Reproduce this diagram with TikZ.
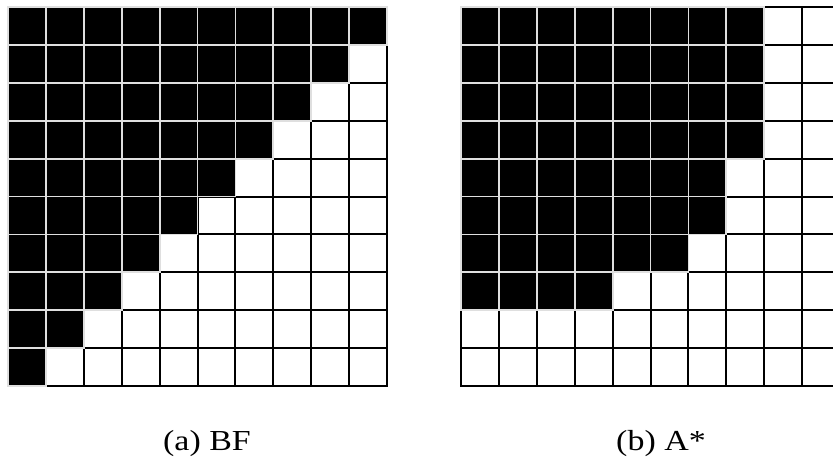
\documentclass[tikz,border=0pt]{standalone}
\usepackage{graphicx}
\usepackage{fontspec}
\setmainfont{Liberation Serif}
\begin{document}
\begin{tikzpicture}[x=1pt,y=-1pt,
  cell/.style={draw=black,line width=2pt,fill=white},
  blk/.style={draw=gray!25,line width=1.8pt,fill=black},
  captext/.style={font=\fontsize{29}{32}\selectfont,anchor=base,inner sep=0pt}]
\useasboundingbox (0,0) rectangle (833,463);
\clip (0,0) rectangle (833,463);
\fill[white] (0,0) rectangle (833,463);
\def\s{37.9}
% white grid cells
\foreach \r in {0,...,9}{
  \foreach \c in {0,...,9}{
    \draw[cell] ({8+\c*\s},{7+\r*\s}) rectangle ++(\s,\s);
    \draw[cell] ({461+\c*\s},{7+\r*\s}) rectangle ++(\s,\s);
  }
}
% black cells, left grid (BF)
\foreach \r in {0,...,9}{
  \pgfmathtruncatemacro\n{9-\r}
  \foreach \c in {0,...,\n}{
    \draw[blk] ({8+\c*\s},{7+\r*\s}) rectangle ++(\s,\s);
  }
}
% black cells, right grid (A*)
\foreach \r/\n in {0/7,1/7,2/7,3/7,4/6,5/6,6/5,7/3}{
  \foreach \c in {0,...,\n}{
    \draw[blk] ({461+\c*\s},{7+\r*\s}) rectangle ++(\s,\s);
  }
}
\node[captext] (capa) at (207,450) {\scalebox{1.17}[1]{(a) BF}};
\node[captext] (capb) at (661,450) {\scalebox{1.17}[1]{(b) A*}};
\end{tikzpicture}
\end{document}
